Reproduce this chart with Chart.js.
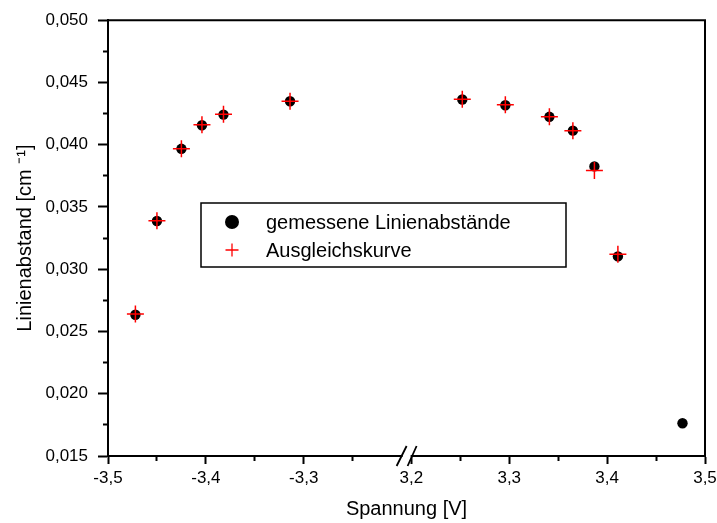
<!DOCTYPE html>
<html>
<head>
<meta charset="utf-8">
<script src="https://cdn.jsdelivr.net/npm/chart.js@4/dist/chart.umd.min.js"></script>
<style>
  body { margin: 0; background: #fff; }
</style>
</head>
<body>
<canvas id="lineChart" width="717" height="523"></canvas>
<script>
// Negative voltage branch
const voltNeg = [-3.472, -3.450, -3.425, -3.404, -3.382, -3.314];
const measNeg = [0.02634, 0.03387, 0.03967, 0.04156, 0.04242, 0.04349];
const fitNeg  = [0.02640, 0.03390, 0.03967, 0.04160, 0.04245, 0.04349];

// Positive voltage branch
const voltPos = [3.252, 3.296, 3.341, 3.365, 3.387, 3.411, 3.477];
const measPos = [0.04363, 0.04317, 0.04224, 0.04113, 0.03826, 0.03103, 0.01763];
const fitPos  = [0.04366, 0.04320, 0.04224, 0.04113, 0.03792, 0.03121, null];

// Axis ticks
const xTicksNeg = [-3.5, -3.4, -3.3];
const xTicksPos = [3.2, 3.3, 3.4, 3.5];
const yTicks = [0.015, 0.020, 0.025, 0.030, 0.035, 0.040, 0.045, 0.050];

const pts = (xs, ys) => xs.map((x, i) => ({x: x, y: ys[i]}));
const comma = (v, d) => v.toFixed(d).replace('.', ',');

// majors plus half steps between them (and one after the last if asked)
function withMinor(majors, extraEnd) {
  const out = [];
  const step = majors[1] - majors[0];
  majors.forEach((m, i) => {
    out.push(m);
    if (i < majors.length - 1 || extraEnd) out.push(m + step / 2);
  });
  return out;
}
const isMajor = (v, list) => list.some(m => Math.abs(m - v) < 1e-6);

function xAxis(majors, min, max, weight, extraEnd) {
  const all = withMinor(majors, extraEnd);
  return {
    type: 'linear',
    position: 'bottom',
    stack: 'volt',
    stackWeight: weight,
    min: min,
    max: max,
    afterBuildTicks: s => { s.ticks = all.map(v => ({value: v})); },
    afterFit: s => { s.height = 41; s.paddingRight = 8; },
    grid: {
      drawOnChartArea: false,
      tickLength: 8,
      tickWidth: 2,
      tickColor: '#000',
      tickBorderDash: c => (c.tick && isMajor(c.tick.value, majors)) ? [] : [4, 100]
    },
    border: { color: '#000', width: 2 },
    ticks: {
      autoSkip: false,
      maxRotation: 0,
      padding: 4,
      color: '#000',
      font: { size: 17 },
      callback: v => isMajor(v, majors) ? comma(v, 1) : ''
    }
  };
}

// frame, axis break and legend box
const extras = {
  id: 'extras',
  afterDraw(chart) {
    const ctx = chart.ctx;
    const a = chart.chartArea;
    ctx.save();
    ctx.strokeStyle = '#000';
    ctx.lineWidth = 2;
    ctx.beginPath();
    ctx.moveTo(a.left, a.top);
    ctx.lineTo(a.right, a.top);
    ctx.lineTo(a.right, a.bottom);
    ctx.stroke();

    // axis break "//"
    const bx = chart.scales.x.right, by = a.bottom;
    ctx.fillStyle = '#fff';
    ctx.fillRect(bx + 1, by - 3, 8, 6);
    ctx.lineWidth = 1.8;
    ctx.beginPath();
    ctx.moveTo(bx - 5, by + 10); ctx.lineTo(bx + 5, by - 10);
    ctx.moveTo(bx + 6, by + 10); ctx.lineTo(bx + 15, by - 10);
    ctx.stroke();

    // legend
    const L = {left: 201, top: 203, w: 365, h: 64};
    ctx.fillStyle = '#fff';
    ctx.fillRect(L.left, L.top, L.w, L.h);
    ctx.lineWidth = 1.5;
    ctx.strokeStyle = '#000';
    ctx.strokeRect(L.left, L.top, L.w, L.h);
    const items = [chart.data.datasets[2], chart.data.datasets[0]];
    items.forEach((ds, i) => {
      const y = L.top + 19 + i * 28;
      const cross = ds.pointStyle === 'cross';
      ctx.fillStyle = ds.backgroundColor;
      ctx.strokeStyle = ds.borderColor;
      ctx.lineWidth = cross ? 1.3 : 0;
      Chart.helpers.drawPoint(ctx, {
        pointStyle: ds.pointStyle, rotation: 0,
        radius: cross ? 6.5 : 7,
        borderWidth: cross ? 1.3 : 0
      }, L.left + 31, y);
      ctx.fillStyle = '#000';
      ctx.font = '20px "Liberation Sans", Arial, sans-serif';
      ctx.textBaseline = 'middle';
      ctx.textAlign = 'left';
      ctx.fillText(ds.label, L.left + 65, y + 1);
    });
    ctx.restore();
  }
};

Chart.defaults.font.family = '"Liberation Sans", Arial, sans-serif';
Chart.defaults.color = '#000';

const fitStyle = {
  pointStyle: 'cross', pointRadius: 8.5, pointBorderWidth: 1.5,
  borderColor: 'rgb(255,0,0)', backgroundColor: 'rgb(255,0,0)',
  showLine: false, order: 0
};
const measStyle = {
  pointStyle: 'circle', pointRadius: 5.2, pointBorderWidth: 0,
  borderColor: '#000', backgroundColor: '#000',
  showLine: false, order: 1
};

new Chart(document.getElementById('lineChart').getContext('2d'), {
  type: 'scatter',
  data: {
    datasets: [
      Object.assign({ label: 'Ausgleichskurve', data: pts(voltNeg, fitNeg), xAxisID: 'x' }, fitStyle),
      Object.assign({ label: 'Ausgleichskurve', data: pts(voltPos, fitPos), xAxisID: 'x2' }, fitStyle),
      Object.assign({ label: 'gemessene Linienabstände', data: pts(voltNeg, measNeg), xAxisID: 'x' }, measStyle),
      Object.assign({ label: 'gemessene Linienabstände', data: pts(voltPos, measPos), xAxisID: 'x2' }, measStyle)
    ]
  },
  options: {
    responsive: false,
    animation: false,
    layout: { padding: { left: 9, right: 12, top: 19, bottom: 0 } },
    plugins: {
      legend: { display: false },
      tooltip: { enabled: false },
      title: {
        display: true,
        text: 'Spannung [V]',
        position: 'bottom',
        fullSize: false,
        color: '#000',
        font: { size: 20, weight: 'normal' },
        padding: { top: 0, bottom: 2 }
      }
    },
    scales: {
      x: xAxis(xTicksNeg, -3.5, -3.2, 0.30, true),
      x2: xAxis(xTicksPos, 3.19, 3.5, 0.31, false),
      y: {
        min: 0.015,
        max: 0.05,
        afterBuildTicks: s => { s.ticks = withMinor(yTicks, false).map(v => ({value: v})); },
        afterFit: s => { s.width = 99; },
        title: {
          display: true,
          text: 'Linienabstand [cm ⁻¹]',
          font: { size: 20 },
          padding: { top: 4, bottom: 0 }
        },
        grid: {
          drawOnChartArea: false,
          tickLength: 10,
          tickWidth: 2,
          tickColor: '#000',
          tickBorderDash: c => (c.tick && isMajor(c.tick.value, yTicks)) ? [] : [5, 5],
          tickBorderDashOffset: c => (c.tick && isMajor(c.tick.value, yTicks)) ? 0 : 5
        },
        border: { color: '#000', width: 2 },
        ticks: {
          autoSkip: false,
          padding: 10,
          font: { size: 17 },
          callback: v => isMajor(v, yTicks) ? comma(v, 3) : ''
        }
      }
    }
  },
  plugins: [extras]
});
</script>
</body>
</html>
